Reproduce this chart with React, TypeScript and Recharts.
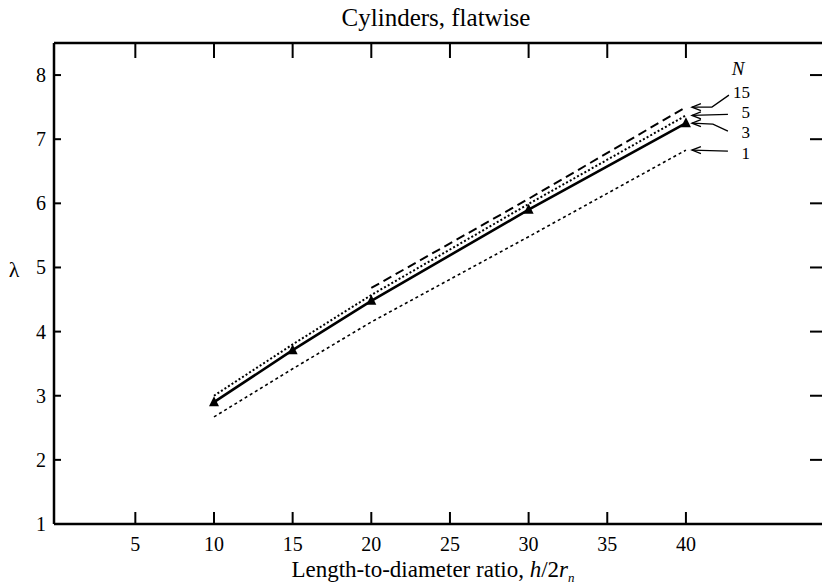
import React from 'react';
import { LineChart, Line, XAxis, YAxis } from 'recharts';

const xValues = [10, 15, 20, 30, 40];
const seriesN1 = [2.67, 3.42, 4.15, 5.48, 6.83];
const seriesN3 = [2.9, 3.71, 4.48, 5.9, 7.25];
const seriesN5 = [3.0, 3.8, 4.57, 5.99, 7.37];
const seriesN15: (number | null)[] = [null, null, 4.68, 6.07, 7.5];
const xTicks = [5, 10, 15, 20, 25, 30, 35, 40];
const yTicks = [1, 2, 3, 4, 5, 6, 7, 8];
const nLabels = { n1: '1', n3: '3', n5: '5', n15: '15' };

const data = xValues.map((x, i) => ({
  x,
  n1: seriesN1[i],
  n3: seriesN3[i],
  n5: seriesN5[i],
  n15: seriesN15[i],
}));

const FONT = '"Liberation Serif", "DejaVu Serif", serif';
const LAST = xValues.length - 1;

const BottomTick = (p: any) => (
  <g>
    <line x1={p.x} y1={p.y} x2={p.x} y2={p.y - 12} stroke="#000" strokeWidth={2} />
    <text x={p.x} y={p.y + 27} textAnchor="middle" fontSize={20} fontFamily={FONT} fill="#000">
      {p.payload.value}
    </text>
  </g>
);
const TopTick = (p: any) => (
  <line x1={p.x} y1={p.y} x2={p.x} y2={p.y + 15} stroke="#000" strokeWidth={2} />
);
const LeftTick = (p: any) => (
  <g>
    <line x1={p.x} y1={p.y} x2={p.x + 7} y2={p.y} stroke="#000" strokeWidth={2} />
    <text x={p.x - 8} y={p.y + 7} textAnchor="end" fontSize={20} fontFamily={FONT} fill="#000">
      {p.payload.value}
    </text>
  </g>
);
const RightTick = (p: any) =>
  p.payload.value > 1 ? (
    <line x1={p.x} y1={p.y} x2={p.x - 12} y2={p.y} stroke="#000" strokeWidth={2} />
  ) : (
    <g />
  );

const Triangle = (p: any) =>
  p.cx == null || p.cy == null ? (
    <g key={p.index} />
  ) : (
    <path
      key={p.index}
      d={`M${p.cx},${p.cy - 6} L${p.cx + 5},${p.cy + 4} L${p.cx - 5},${p.cy + 4} Z`}
      fill="#000"
    />
  );

// arrow geometry relative to line end: path points and text offset
const arrowShapes: Record<string, { pts: [number, number][]; tx: number; ty: number }> = {
  n15: { pts: [[6, 0], [26, 0], [43, -12]], tx: 64, ty: -15 },
  n5: { pts: [[6, 0], [42, -1]], tx: 64, ty: -3 },
  n3: { pts: [[6, 0], [27, 1], [42, 8]], tx: 64, ty: 9 },
  n1: { pts: [[6, 0], [42, 1]], tx: 64, ty: 3 },
};

const makeEndLabel = (key: string) => (p: any) => {
  if (p.index !== LAST || p.x == null || p.y == null) return <g />;
  const s = arrowShapes[key];
  const d = s.pts.map((q, i) => `${i ? 'L' : 'M'}${p.x + q[0]},${p.y + q[1]}`).join(' ');
  const tipX = p.x + s.pts[0][0];
  const tipY = p.y;
  return (
    <g>
      <path d={d} fill="none" stroke="#000" strokeWidth={1.3} />
      <path
        d={`M${tipX + 9},${tipY - 3.5} L${tipX},${tipY} L${tipX + 9},${tipY + 3.5}`}
        fill="none"
        stroke="#000"
        strokeWidth={1.3}
      />
      <text
        x={p.x + s.tx}
        y={p.y + s.ty + 6}
        textAnchor="end"
        fontSize={17}
        fontFamily={FONT}
        fill="#000"
      >
        {nLabels[key as keyof typeof nLabels]}
      </text>
    </g>
  );
};

const xDomain = [-0.17, 48.65];
const yDomain = [1, 8.5];

export default function App() {
  return (
    <div
      style={{
        position: 'absolute',
        left: 0,
        top: 0,
        width: 822,
        height: 584,
        overflow: 'hidden',
        background: '#fff',
        fontFamily: FONT,
      }}
    >
      <LineChart width={840} height={584} data={data} margin={{ top: 0, right: 0, bottom: 0, left: 0 }}>
        <XAxis
          xAxisId="b"
          dataKey="x"
          type="number"
          domain={xDomain}
          allowDataOverflow
          ticks={xTicks}
          height={60}
          tickSize={0}
          tickMargin={0}
          tickLine={false}
          tick={BottomTick}
          axisLine={{ stroke: '#000', strokeWidth: 2.5 }}
        />
        <XAxis
          xAxisId="t"
          orientation="top"
          dataKey="x"
          type="number"
          domain={xDomain}
          allowDataOverflow
          ticks={xTicks}
          height={43}
          tickSize={0}
          tickMargin={0}
          tickLine={false}
          tick={TopTick}
          axisLine={{ stroke: '#000', strokeWidth: 2.5 }}
        />
        <YAxis
          yAxisId="l"
          type="number"
          domain={yDomain}
          allowDataOverflow
          ticks={yTicks}
          width={54}
          tickSize={0}
          tickMargin={0}
          tickLine={false}
          tick={LeftTick}
          axisLine={{ stroke: '#000', strokeWidth: 2.5 }}
        />
        <YAxis
          yAxisId="r"
          orientation="right"
          type="number"
          domain={yDomain}
          allowDataOverflow
          ticks={yTicks}
          width={18}
          tickSize={0}
          tickMargin={0}
          tickLine={false}
          tick={RightTick}
          axisLine={false}
        />
        <Line
          xAxisId="b"
          yAxisId="l"
          dataKey="n1"
          stroke="#000"
          strokeWidth={1.6}
          strokeDasharray="3 3"
          dot={false}
          isAnimationActive={false}
          label={makeEndLabel('n1')}
        />
        <Line
          xAxisId="b"
          yAxisId="l"
          dataKey="n5"
          stroke="#000"
          strokeWidth={2}
          strokeDasharray="2 2.2"
          dot={false}
          isAnimationActive={false}
          label={makeEndLabel('n5')}
        />
        <Line
          xAxisId="b"
          yAxisId="l"
          dataKey="n15"
          stroke="#000"
          strokeWidth={2}
          strokeDasharray="9 5"
          dot={false}
          isAnimationActive={false}
          label={makeEndLabel('n15')}
        />
        <Line
          xAxisId="b"
          yAxisId="l"
          dataKey="n3"
          stroke="#000"
          strokeWidth={2.6}
          dot={Triangle}
          isAnimationActive={false}
          label={makeEndLabel('n3')}
        />
      </LineChart>
      <div
        style={{
          position: 'absolute',
          left: 436,
          top: 18,
          transform: 'translate(-50%, -50%)',
          fontSize: 25,
          lineHeight: '26px',
          whiteSpace: 'nowrap',
        }}
      >
        Cylinders, flatwise
      </div>
      <div
        style={{
          position: 'absolute',
          left: 738,
          top: 68,
          transform: 'translate(-50%, -50%)',
          fontSize: 19,
          lineHeight: '19px',
          fontStyle: 'italic',
        }}
      >
        N
      </div>
      <div
        style={{
          position: 'absolute',
          left: 14,
          top: 270,
          transform: 'translate(-50%, -50%)',
          fontSize: 22,
          lineHeight: '22px',
        }}
      >
        λ
      </div>
      <div
        style={{
          position: 'absolute',
          left: 433,
          top: 569,
          transform: 'translate(-50%, -50%)',
          fontSize: 23,
          lineHeight: '21px',
          whiteSpace: 'nowrap',
        }}
      >
        Length-to-diameter ratio, <i>h</i>/2<i>r</i>
        <sub style={{ fontSize: 13, fontStyle: 'italic', lineHeight: 0 }}>n</sub>
      </div>
    </div>
  );
}
